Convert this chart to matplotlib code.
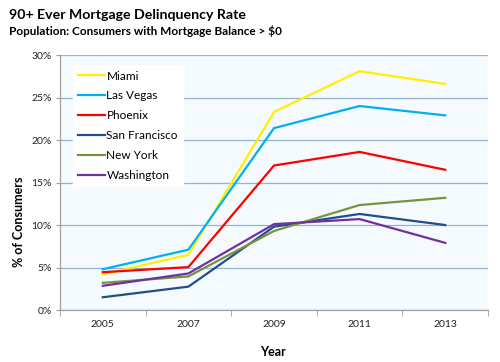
import matplotlib
matplotlib.use('Agg')
import matplotlib.pyplot as plt
from matplotlib.ticker import FixedLocator, FuncFormatter

# Data (% of consumers)
years = [2005, 2007, 2009, 2011, 2013]
miami = [4.2, 6.5, 23.3, 28.1, 26.6]
las_vegas = [4.8, 7.1, 21.4, 24.0, 22.9]
phoenix = [4.45, 5.05, 17.0, 18.6, 16.5]
san_francisco = [1.5, 2.75, 9.8, 11.3, 10.0]
new_york = [3.2, 3.95, 9.3, 12.35, 13.2]
washington = [2.85, 4.3, 10.1, 10.7, 7.9]

series = [
    ('Miami', miami, '#FFEF00'),
    ('Las Vegas', las_vegas, '#00B0F0'),
    ('Phoenix', phoenix, '#FF0000'),
    ('San Francisco', san_francisco, '#1F4E8C'),
    ('New York', new_york, '#77933C'),
    ('Washington', washington, '#7030A0'),
]

plt.rcParams['font.family'] = ['Lato', 'DejaVu Sans']

fig = plt.figure(figsize=(5, 3.62), dpi=100)
ax = fig.add_axes([0.12, 0.1436, 0.856, 0.7044])
ax.set_facecolor('#F5FAFE')

for name, vals, color in series:
    ax.plot(years, vals, color=color, lw=1.6, label=name, solid_joinstyle='miter')

ax.set_xlim(2004, 2014)
ax.set_ylim(0, 30)

# category style x axis: labels at centres, tick marks between categories
ax.set_xticks(years)
ax.set_xticklabels([str(y) for y in years])
ax.tick_params(axis='x', which='major', length=0, pad=7, labelsize=7.5, labelcolor='#222222')
ax.xaxis.set_minor_locator(FixedLocator([2004, 2006, 2008, 2010, 2012, 2014]))
ax.tick_params(axis='x', which='minor', length=4, color='#A0A0A0', direction='out')

ax.set_yticks(range(0, 31, 5))
ax.yaxis.set_major_formatter(FuncFormatter(lambda v, p: f'{int(v)}%'))
ax.tick_params(axis='y', length=3, color='#A0A0A0', labelsize=7.5, labelcolor='#222222', pad=3)

ax.grid(axis='y', color='#95B3D7', lw=0.9)
ax.set_axisbelow(True)
for side in ['top', 'right']:
    ax.spines[side].set_visible(False)
for side in ['left', 'bottom']:
    ax.spines[side].set_color('#A0A0A0')
    ax.spines[side].set_linewidth(0.9)

# axis titles placed where the reference has them
fig.text(0.545, 1 - 352 / 362, 'Year', fontsize=9, fontweight='bold', ha='center', va='center')
fig.text(0.038, 1 - 222 / 362, '% of Consumers', fontsize=9, fontweight='bold',
         ha='center', va='center', rotation=90)

leg = ax.legend(loc='upper left', bbox_to_anchor=(0.03, 0.96), frameon=True, fancybox=False,
                fontsize=8.5, handlelength=2.3, handletextpad=0.1, labelspacing=0.75,
                borderpad=0.45, borderaxespad=0)
leg.get_frame().set_facecolor('white')
leg.get_frame().set_edgecolor('white')
leg.get_frame().set_alpha(1)

fig.text(0.018, 1 - 15 / 362, '90+ Ever Mortgage Delinquency Rate', fontsize=10.2, fontweight='bold', va='center')
fig.text(0.018, 1 - 31 / 362, 'Population: Consumers with Mortgage Balance > $0', fontsize=8.5, fontweight='bold', va='center')

fig.savefig('out.png', dpi=100)
